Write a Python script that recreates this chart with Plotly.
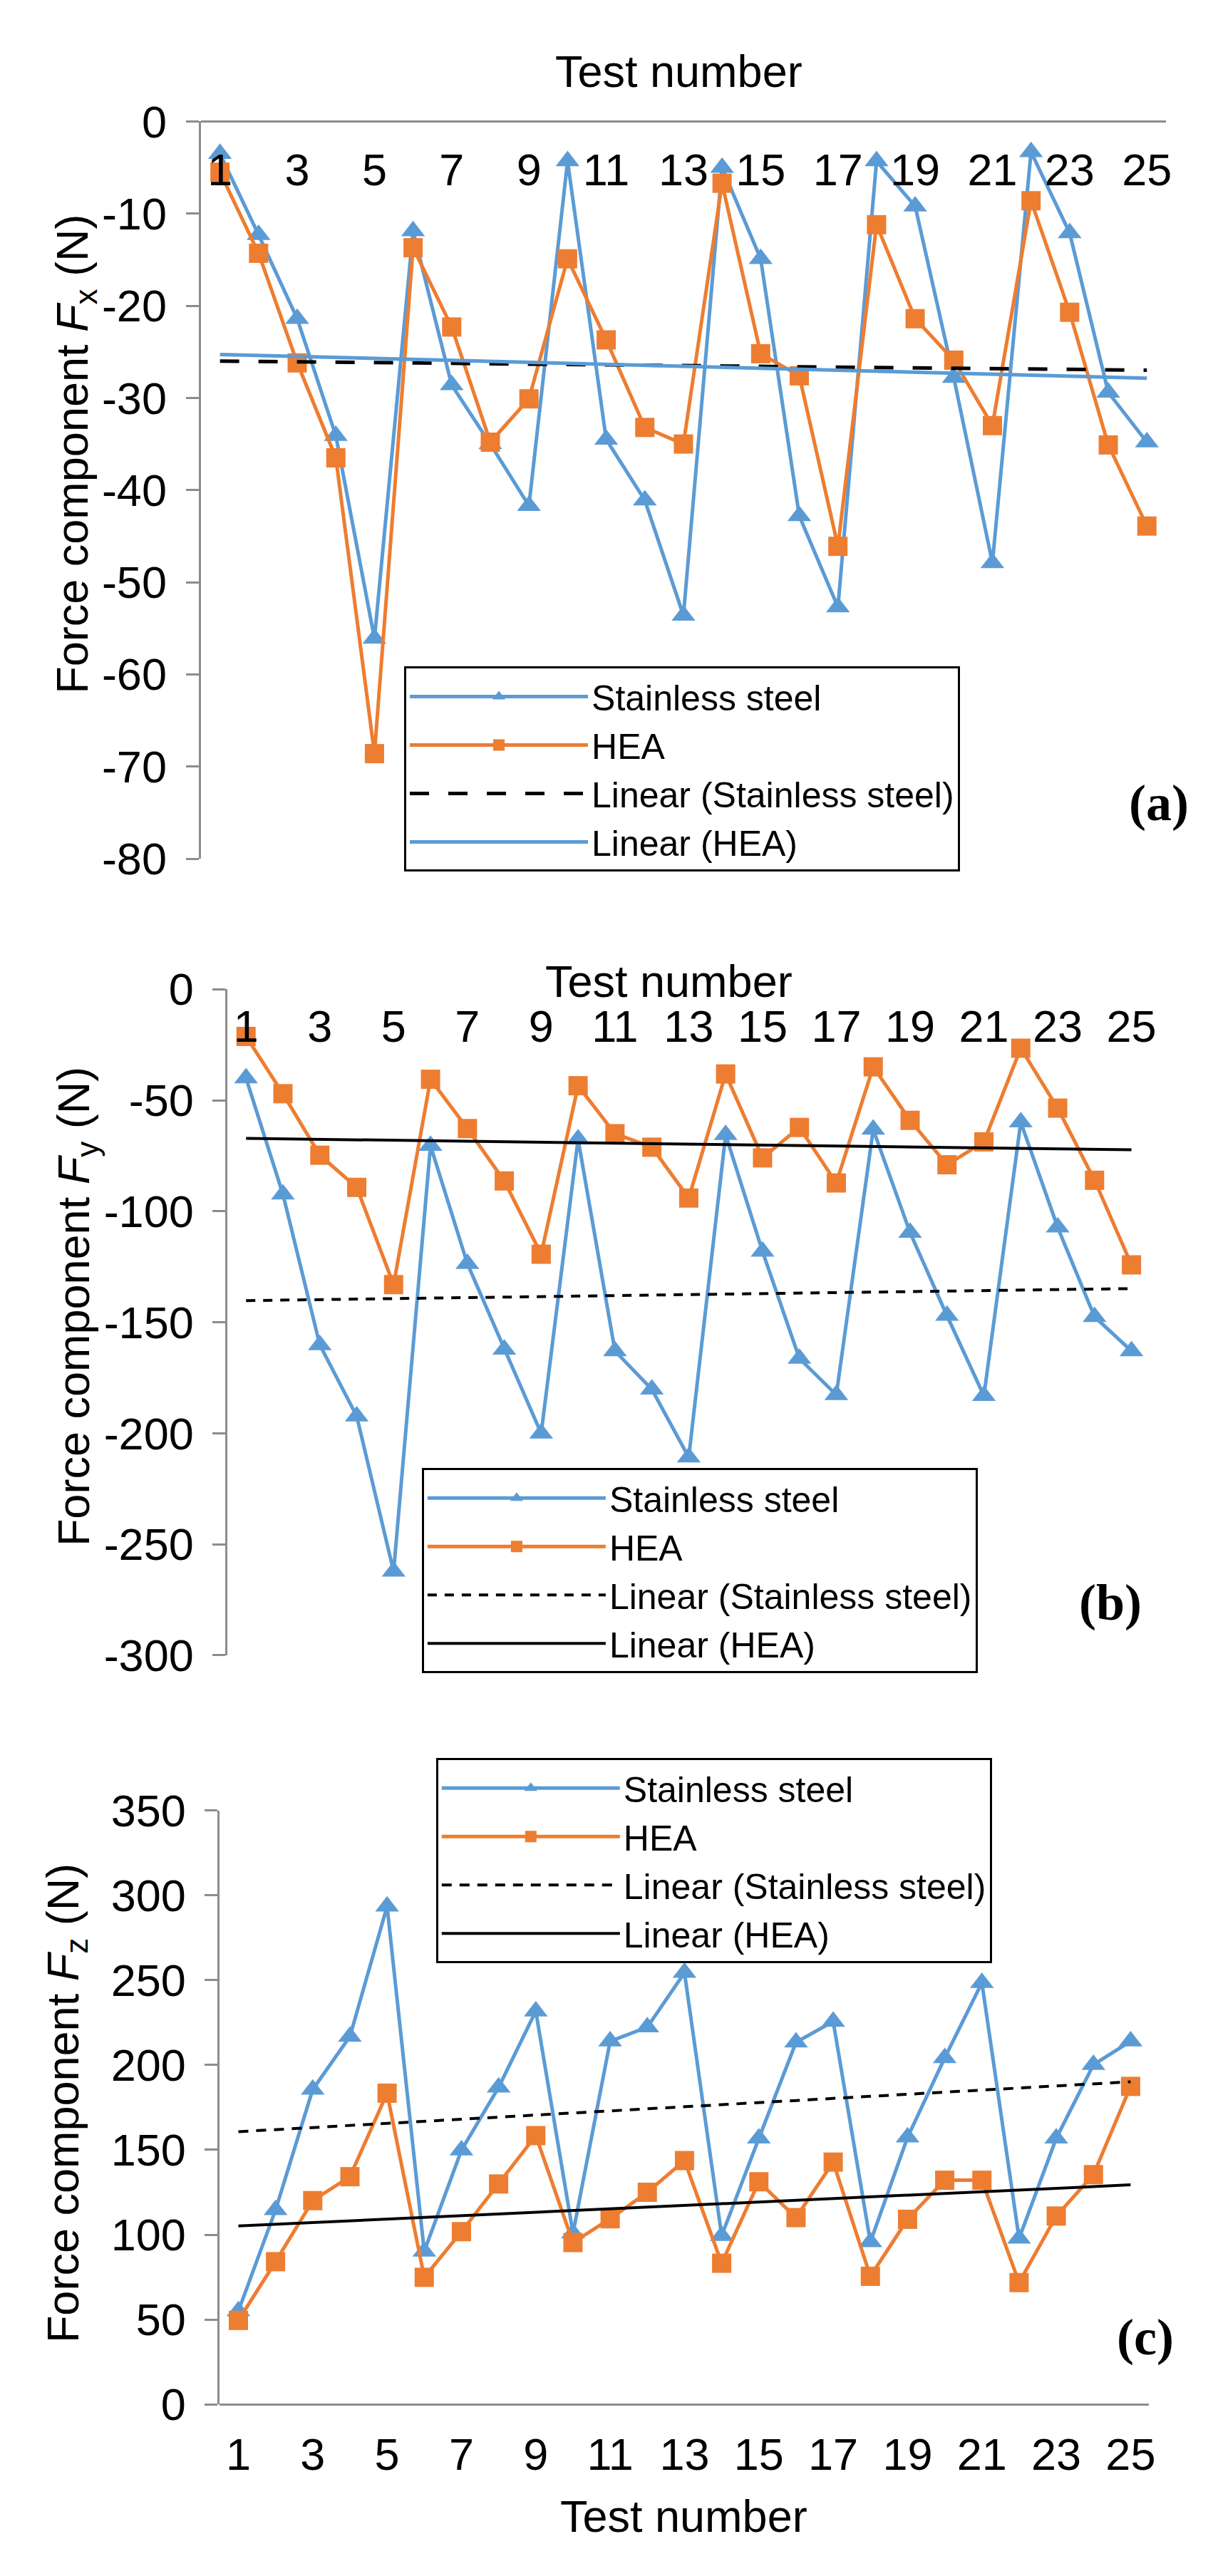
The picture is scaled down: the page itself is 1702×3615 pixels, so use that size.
import numpy as np
import plotly.graph_objects as go

# ---------------- data ----------------
test_number = [1, 2, 3, 4, 5, 6, 7, 8, 9, 10, 11, 12, 13,
               14, 15, 16, 17, 18, 19, 20, 21, 22, 23, 24, 25]
x_tick_values = [1, 3, 5, 7, 9, 11, 13, 15, 17, 19, 21, 23, 25]

fx_tick_values = [0, -10, -20, -30, -40, -50, -60, -70, -80]
fy_tick_values = [0, -50, -100, -150, -200, -250, -300]
fz_tick_values = [0, 50, 100, 150, 200, 250, 300, 350]

fx_stainless = [-3.5, -12.3, -21.4, -34.1, -56.1, -11.9, -28.6, -35.0, -41.7, -4.3,
                -34.5, -41.1, -53.6, -5.0, -14.9, -42.8, -52.7, -4.3, -9.2, -27.8,
                -47.9, -3.3, -12.1, -29.4, -34.8]
fx_hea = [-5.5, -14.3, -26.2, -36.5, -68.6, -13.7, -22.3, -34.8, -30.1, -14.9,
          -23.7, -33.2, -35.0, -6.7, -25.2, -27.6, -46.1, -11.2, -21.4, -25.9,
          -33.0, -8.6, -20.7, -35.1, -43.9]

fy_stainless = [-40.0, -92.3, -160.2, -192.3, -262.2, -70.4, -123.6, -162.2, -200.0, -67.5,
                -162.9, -180.2, -210.8, -65.5, -118.1, -166.3, -182.7, -63.1, -109.6, -147.0,
                -183.1, -59.8, -107.2, -147.5, -162.9]
fy_hea = [-21.2, -47.0, -74.7, -89.2, -133.0, -40.5, -62.7, -86.3, -119.3, -43.4,
          -65.0, -71.1, -94.0, -38.1, -75.9, -62.2, -87.2, -34.9, -59.0, -79.0,
          -68.7, -26.5, -53.5, -86.0, -124.1]

fz_stainless = [55.0, 114.6, 185.6, 216.8, 293.5, 90.2, 149.8, 186.8, 231.7, 100.9,
                214.0, 222.3, 254.4, 99.4, 156.8, 213.4, 225.6, 95.7, 157.4, 204.2,
                248.5, 97.8, 156.8, 200.2, 214.0]
fz_hea = [49.5, 84.1, 120.1, 134.2, 183.4, 74.9, 101.8, 129.9, 158.4, 95.4,
          109.4, 125.0, 143.7, 83.2, 131.2, 110.1, 142.8, 75.5, 109.1, 132.1,
          132.1, 71.8, 111.0, 135.4, 187.4]

series_names = ["Stainless steel", "HEA", "Linear (Stainless steel)", "Linear (HEA)"]
panel_labels = ["(a)", "(b)", "(c)"]
y_titles = ["Force component <i>F</i><sub>x</sub> (N)",
            "Force component <i>F</i><sub>y</sub> (N)",
            "Force component <i>F</i><sub>z</sub> (N)"]
x_title = "Test number"

# ---------------- styling ----------------
W, H = 1702, 3615
BLUE = "#5B9BD5"
ORANGE = "#ED7D31"
GRAY = "#8c8c8c"
FONT = "Liberation Sans"
TICK_SIZE = 63
LEG_SIZE = 50


def px_x(p):
    return p / W


def px_y(p):
    return 1 - p / H


def trend(x, y):
    k, b = np.polyfit(np.asarray(x, float), np.asarray(y, float), 1)
    xs = np.array([x[0], x[-1]], float)
    return xs, k * xs + b


panels = [
    dict(ss=fx_stainless, hea=fx_hea, ticks=fx_tick_values,
         xd=(275, 1637), yd=(130, 1185), yr=[-80, 0],
         ss_trend=dict(color="black", width=5, dash="27px,27px"),
         hea_trend=dict(color=BLUE, width=5, dash="solid"),
         legend=(562, 910), xaxis_at=130, xline=True, xstand=12,
         xtitle=(950, 58), ytitle=(98, 606), label=(1627, 1105)),
    dict(ss=fy_stainless, hea=fy_hea, ticks=fy_tick_values,
         xd=(313, 1614), yd=(1372, 2325), yr=[-300, 0],
         ss_trend=dict(color="black", width=4, dash="13px,11px"),
         hea_trend=dict(color="black", width=4, dash="solid"),
         legend=(587, 2057), xaxis_at=1372, xline=False, xstand=10,
         xtitle=(935, 1360), ytitle=(100, 1826), label=(1558, 2250)),
    dict(ss=fz_stainless, hea=fz_hea, ticks=fz_tick_values,
         xd=(302, 1613), yd=(2547, 3397), yr=[0, 350],
         ss_trend=dict(color="black", width=4, dash="14px,11px"),
         hea_trend=dict(color="black", width=4, dash="solid"),
         legend=(607, 2472), xaxis_at=3397, xline=True, xstand=14,
         xtitle=(957, 3557), ytitle=(85, 2966), label=(1607, 3301)),
]

fig = go.Figure()
layout = dict(width=W, height=H, margin=dict(l=0, r=0, t=0, b=0),
              paper_bgcolor="white", plot_bgcolor="white",
              font=dict(family=FONT, color="black", size=TICK_SIZE),
              showlegend=True)
annotations = []

for i, p in enumerate(panels):
    n = "" if i == 0 else str(i + 1)
    xa, ya = "x" + n, "y" + n
    leg = "legend" + n

    fig.add_trace(go.Scatter(
        x=test_number, y=p["ss"], name=series_names[0], mode="lines+markers",
        xaxis=xa, yaxis=ya, legend=leg, cliponaxis=False,
        line=dict(color=BLUE, width=5),
        marker=dict(symbol="triangle-up", size=29, color=BLUE)))
    fig.add_trace(go.Scatter(
        x=test_number, y=p["hea"], name=series_names[1], mode="lines+markers",
        xaxis=xa, yaxis=ya, legend=leg, cliponaxis=False,
        line=dict(color=ORANGE, width=5),
        marker=dict(symbol="square", size=27, color=ORANGE)))
    tx, ty = trend(test_number, p["ss"])
    fig.add_trace(go.Scatter(
        x=tx, y=ty, name=series_names[2], mode="lines",
        xaxis=xa, yaxis=ya, legend=leg, line=p["ss_trend"]))
    tx, ty = trend(test_number, p["hea"])
    fig.add_trace(go.Scatter(
        x=tx, y=ty, name=series_names[3], mode="lines",
        xaxis=xa, yaxis=ya, legend=leg, line=p["hea_trend"]))

    # x axis: drawn at y = 0 of each panel, labels below the axis line
    layout["xaxis" + n] = dict(
        domain=[px_x(p["xd"][0]), px_x(p["xd"][1])],
        anchor="free", position=px_y(p["xaxis_at"]), side="bottom",
        range=[0.5, 25.5], tickmode="array", tickvals=x_tick_values,
        ticktext=[str(v) for v in x_tick_values],
        ticks="", showgrid=False, zeroline=False,
        showline=p["xline"], linecolor=GRAY, linewidth=3,
        tickfont=dict(family=FONT, size=TICK_SIZE, color="black"),
        ticklabelstandoff=p["xstand"])
    layout["yaxis" + n] = dict(
        domain=[px_y(p["yd"][1]), px_y(p["yd"][0])], anchor=xa,
        range=p["yr"], tickmode="array", tickvals=p["ticks"],
        ticktext=[str(v) for v in p["ticks"]],
        ticks="outside", ticklen=18, tickwidth=3, tickcolor=GRAY,
        showgrid=False, zeroline=False,
        showline=True, linecolor=GRAY, linewidth=3,
        tickfont=dict(family=FONT, size=TICK_SIZE, color="black"),
        ticklabelstandoff=14)
    layout[leg] = dict(
        x=px_x(p["legend"][0]), y=px_y(p["legend"][1]), xanchor="left", yanchor="top",
        xref="paper", yref="paper",
        bgcolor="white", bordercolor="black", borderwidth=3,
        font=dict(family=FONT, size=LEG_SIZE, color="black"),
        itemwidth=250, tracegroupgap=0)

    annotations.append(dict(
        text=x_title, xref="paper", yref="paper",
        x=px_x(p["xtitle"][0]), y=px_y(p["xtitle"][1]),
        xanchor="center", yanchor="middle", showarrow=False,
        font=dict(family=FONT, size=TICK_SIZE, color="black")))
    annotations.append(dict(
        text=y_titles[i], xref="paper", yref="paper", textangle=-90,
        x=px_x(p["ytitle"][0]), y=px_y(p["ytitle"][1]),
        xanchor="center", yanchor="middle", showarrow=False,
        font=dict(family=FONT, size=TICK_SIZE, color="black")))
    annotations.append(dict(
        text="<b>" + panel_labels[i] + "</b>", xref="paper", yref="paper",
        x=px_x(p["label"][0]), y=px_y(p["label"][1]),
        xanchor="center", yanchor="middle", showarrow=False,
        font=dict(family="Liberation Serif", size=72, color="black")))

layout["annotations"] = annotations
fig.update_layout(**layout)
fig.write_html("out.html")
